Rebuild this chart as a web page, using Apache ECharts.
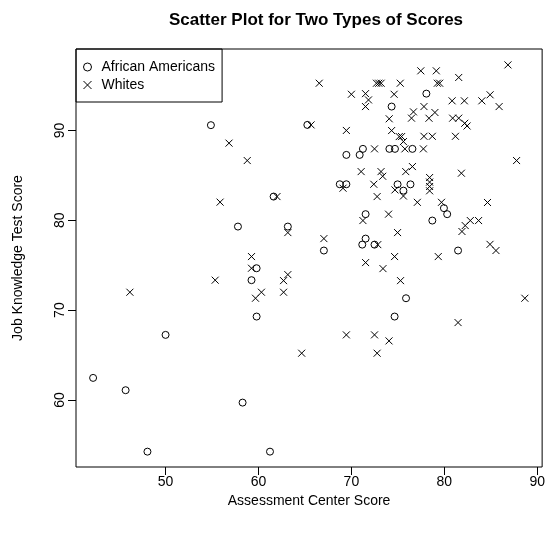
<!DOCTYPE html>
<html>
<head>
<meta charset="utf-8">
<script src="https://cdn.jsdelivr.net/npm/echarts@6/dist/echarts.min.js"></script>
<style>
html,body{margin:0;padding:0;background:#fff;}
#chart{width:548px;height:540px;}
</style>
</head>
<body>
<div id="chart"></div>
<script>
// Data (Assessment Center Score, Job Knowledge Test Score)
const africanAmericansX = [42.2, 45.7, 48.05, 50.0, 54.88, 57.79, 58.29, 59.25, 59.8, 59.8, 61.24, 61.63, 63.16, 65.26, 67.04, 68.75, 69.46, 69.46, 70.89, 71.24, 71.53, 71.53, 71.17, 72.49, 74.09, 74.69, 76.57, 74.33, 78.07, 74.97, 75.6, 76.36, 75.88, 74.65, 78.71, 79.96, 80.31, 81.48];
const africanAmericansY = [62.45, 61.08, 54.24, 67.24, 90.59, 79.30, 59.7, 73.33, 74.66, 69.28, 54.24, 82.64, 79.30, 90.62, 76.63, 84.01, 84.01, 87.28, 87.28, 87.95, 80.68, 77.96, 77.29, 77.29, 87.95, 87.95, 87.95, 92.66, 94.1, 84.0, 83.3, 84.0, 71.32, 69.28, 79.97, 81.35, 80.68, 76.63];

const whitesX = [46.16, 55.34, 55.87, 56.83, 58.79, 59.25, 59.25, 59.68, 60.32, 61.99, 62.70, 62.70, 63.16, 63.16, 64.65, 65.66, 66.54, 67.04, 69.46, 69.46, 70.0, 69.1, 71.24, 71.53, 71.52, 71.84, 71.52, 71.05, 72.41, 72.49, 72.77, 72.84, 72.49, 72.77, 72.7, 72.95, 73.2, 73.19, 73.37, 73.4, 74.0, 74.05, 74.07, 74.33, 74.6, 74.65, 74.69, 74.97, 75.15, 75.4, 75.6, 75.26, 75.29, 75.76, 75.6, 75.85, 76.57, 76.68, 76.47, 77.1, 77.47, 77.75, 77.81, 77.81, 78.35, 78.42, 78.42, 78.42, 78.42, 78.71, 78.99, 79.14, 79.25, 79.5, 79.35, 79.7, 80.84, 80.9, 81.55, 81.2, 81.55, 81.48, 81.84, 81.9, 82.25, 82.16, 82.2, 82.45, 82.8, 83.69, 84.04, 84.65, 84.93, 84.92, 85.56, 85.9, 86.85, 87.78, 88.67];
const whitesY = [71.99, 73.33, 82.02, 88.59, 86.65, 75.96, 74.66, 71.32, 71.99, 82.64, 73.28, 71.99, 73.95, 78.63, 65.2, 90.62, 95.26, 77.96, 90.0, 67.24, 94.03, 83.57, 79.97, 75.29, 94.1, 93.4, 92.66, 85.42, 84.01, 87.95, 82.64, 77.29, 67.24, 65.2, 95.26, 95.26, 95.26, 85.42, 84.9, 74.62, 80.68, 66.57, 91.3, 89.99, 94.03, 75.96, 83.38, 78.63, 89.32, 89.32, 88.76, 95.26, 73.28, 87.95, 82.7, 85.42, 85.98, 92.07, 91.37, 82.0, 96.64, 87.95, 92.66, 89.35, 91.36, 84.76, 84.25, 83.76, 83.28, 89.35, 92.0, 96.64, 95.26, 95.26, 75.96, 82.0, 93.3, 91.37, 91.37, 89.35, 95.9, 68.61, 85.24, 78.75, 79.41, 93.3, 90.8, 90.5, 79.97, 79.97, 93.3, 81.98, 93.97, 77.32, 76.63, 92.66, 97.3, 86.65, 71.32];

const xTicks = [50, 60, 70, 80, 90];
const yTicks = [60, 70, 80, 90];
const seriesNames = ['African Americans', 'Whites'];

function pairs(xs, ys) { return xs.map((x, i) => [x, ys[i]]); }

const FONT = 'Liberation Sans, Arial, Helvetica, sans-serif';
const crossPath = 'path://M0,0L10,10M10,0L0,10';

const chart = echarts.init(document.getElementById('chart'), null, {renderer: 'canvas'});
chart.setOption({
  animation: false,
  backgroundColor: '#ffffff',
  title: {
    text: 'Scatter Plot for Two Types of Scores',
    left: 311, top: 7, textAlign: 'center',
    textStyle: {fontFamily: FONT, fontSize: 17, fontWeight: 'bold', color: '#000'}
  },
  legend: {
    orient: 'vertical', left: 76, top: 49,
    padding: [11, 7, 10, 7], itemGap: 4, itemWidth: 8, itemHeight: 14,
    borderColor: '#000', borderWidth: 1, borderRadius: 0,
    textStyle: {fontFamily: FONT, fontSize: 14, color: '#000', padding: [0, 2, 0, 5]},
    data: [
      {name: seriesNames[0], icon: 'circle', itemStyle: {color: 'transparent', borderColor: '#000', borderWidth: 1}},
      {name: seriesNames[1], icon: crossPath, itemStyle: {color: 'transparent', borderColor: '#000', borderWidth: 1}}
    ]
  },
  grid: {left: 76, top: 49, width: 470, height: 418, show: true, borderColor: '#000', borderWidth: 1, backgroundColor: 'transparent'},
  xAxis: {
    type: 'value', min: 40.36, max: 90.53,
    name: 'Assessment Center Score', nameLocation: 'middle', nameGap: 24,
    nameTextStyle: {fontFamily: FONT, fontSize: 14, color: '#000'},
    axisLine: {show: false},
    splitLine: {show: false},
    axisTick: {show: true, inside: false, length: 8, customValues: xTicks, lineStyle: {color: '#000'}},
    axisLabel: {show: true, margin: 8, customValues: xTicks, fontFamily: FONT, fontSize: 14, color: '#000'}
  },
  yAxis: {
    type: 'value', min: 52.53, max: 99.07,
    name: 'Job Knowledge Test Score', nameLocation: 'middle', nameGap: 51,
    nameTextStyle: {fontFamily: FONT, fontSize: 14, color: '#000'},
    axisLine: {show: false},
    splitLine: {show: false},
    axisTick: {show: true, inside: false, length: 8, customValues: yTicks, lineStyle: {color: '#000'}},
    axisLabel: {show: true, margin: 9, rotate: 90, customValues: yTicks, fontFamily: FONT, fontSize: 14, color: '#000'}
  },
  series: [
    {
      name: seriesNames[0], type: 'scatter', symbol: 'circle', symbolSize: 7,
      itemStyle: {color: 'transparent', borderColor: '#000', borderWidth: 1, opacity: 1},
      emphasis: {disabled: true},
      data: pairs(africanAmericansX, africanAmericansY)
    },
    {
      name: seriesNames[1], type: 'scatter', symbol: crossPath, symbolSize: 7,
      itemStyle: {color: 'transparent', borderColor: '#000', borderWidth: 1, opacity: 1},
      emphasis: {disabled: true},
      data: pairs(whitesX, whitesY)
    }
  ]
});
</script>
</body>
</html>
